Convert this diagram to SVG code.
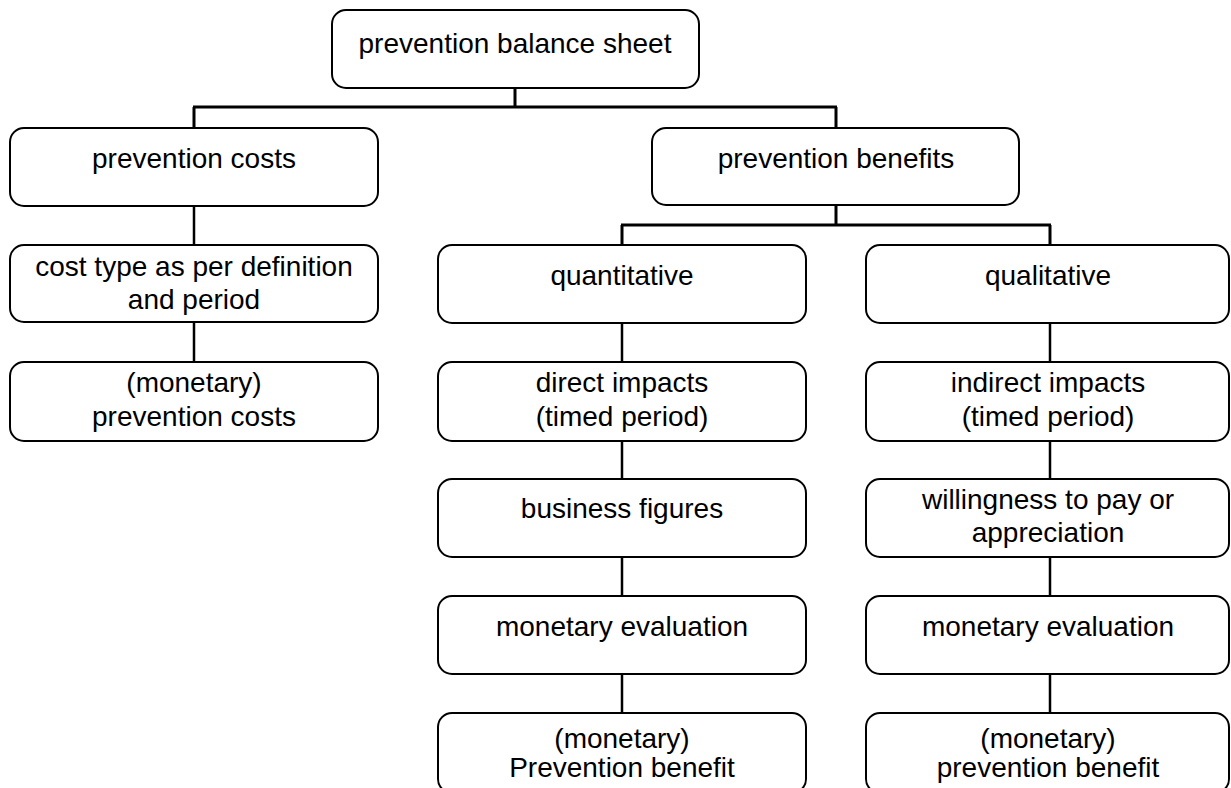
<svg xmlns="http://www.w3.org/2000/svg" width="1231" height="788" viewBox="0 0 1231 788">
<style>
.box{fill:#fff;stroke:#000;stroke-width:2}
.t{font-family:"Liberation Sans",Arial,sans-serif;font-size:28px;fill:#000;text-anchor:middle}
.c{fill:none;stroke:#000;stroke-width:3}
.c2{fill:none;stroke:#000;stroke-width:2.5}
</style>
<rect width="1231" height="788" fill="#fff"/>
<g id="connectors">
<path class="c" d="M515 88V107M193 107H837M194 107V128M836 107V128M836 205V225M621 225H1051M622 225V245M1050 225V245"/>
<path class="c2" d="M194 206V245M194 322V362M622 323V362M622 441V479M622 557V596M622 674V713M1050 323V362M1050 441V479M1050 557V596M1050 674V713"/>
</g>
<g id="n-root"><rect class="box" x="332" y="10" width="367" height="78" rx="14"/><text class="t" x="515" y="53">prevention balance sheet</text></g>
<g id="n-costs"><rect class="box" x="10" y="128" width="368" height="78" rx="14"/><text class="t" x="194" y="168">prevention costs</text></g>
<g id="n-benefits"><rect class="box" x="652" y="128" width="367" height="77" rx="14"/><text class="t" x="836" y="168">prevention benefits</text></g>
<g id="n-costtype"><rect class="box" x="10" y="245" width="368" height="77" rx="14"/><text class="t" x="194" y="276">cost type as per definition</text><text class="t" x="194" y="309">and period</text></g>
<g id="n-moncosts"><rect class="box" x="10" y="362" width="368" height="79" rx="14"/><text class="t" x="194" y="392">(monetary)</text><text class="t" x="194" y="426">prevention costs</text></g>
<g id="n-quant"><rect class="box" x="438" y="245" width="368" height="78" rx="14"/><text class="t" x="622" y="285">quantitative</text></g>
<g id="n-direct"><rect class="box" x="438" y="362" width="368" height="79" rx="14"/><text class="t" x="622" y="392">direct impacts</text><text class="t" x="622" y="426">(timed period)</text></g>
<g id="n-business"><rect class="box" x="438" y="479" width="368" height="78" rx="14"/><text class="t" x="622" y="518">business figures</text></g>
<g id="n-moneval1"><rect class="box" x="438" y="596" width="368" height="78" rx="14"/><text class="t" x="622" y="636">monetary evaluation</text></g>
<g id="n-monben1"><rect class="box" x="438" y="713" width="368" height="80" rx="14"/><text class="t" x="622" y="748">(monetary)</text><text class="t" x="622" y="777">Prevention benefit</text></g>
<g id="n-qual"><rect class="box" x="866" y="245" width="363" height="78" rx="14"/><text class="t" x="1048" y="285">qualitative</text></g>
<g id="n-indirect"><rect class="box" x="866" y="362" width="363" height="79" rx="14"/><text class="t" x="1048" y="392">indirect impacts</text><text class="t" x="1048" y="426">(timed period)</text></g>
<g id="n-willing"><rect class="box" x="866" y="479" width="363" height="78" rx="14"/><text class="t" x="1048" y="509">willingness to pay or</text><text class="t" x="1048" y="542">appreciation</text></g>
<g id="n-moneval2"><rect class="box" x="866" y="596" width="363" height="78" rx="14"/><text class="t" x="1048" y="636">monetary evaluation</text></g>
<g id="n-monben2"><rect class="box" x="866" y="713" width="363" height="80" rx="14"/><text class="t" x="1048" y="748">(monetary)</text><text class="t" x="1048" y="777">prevention benefit</text></g>
</svg>
